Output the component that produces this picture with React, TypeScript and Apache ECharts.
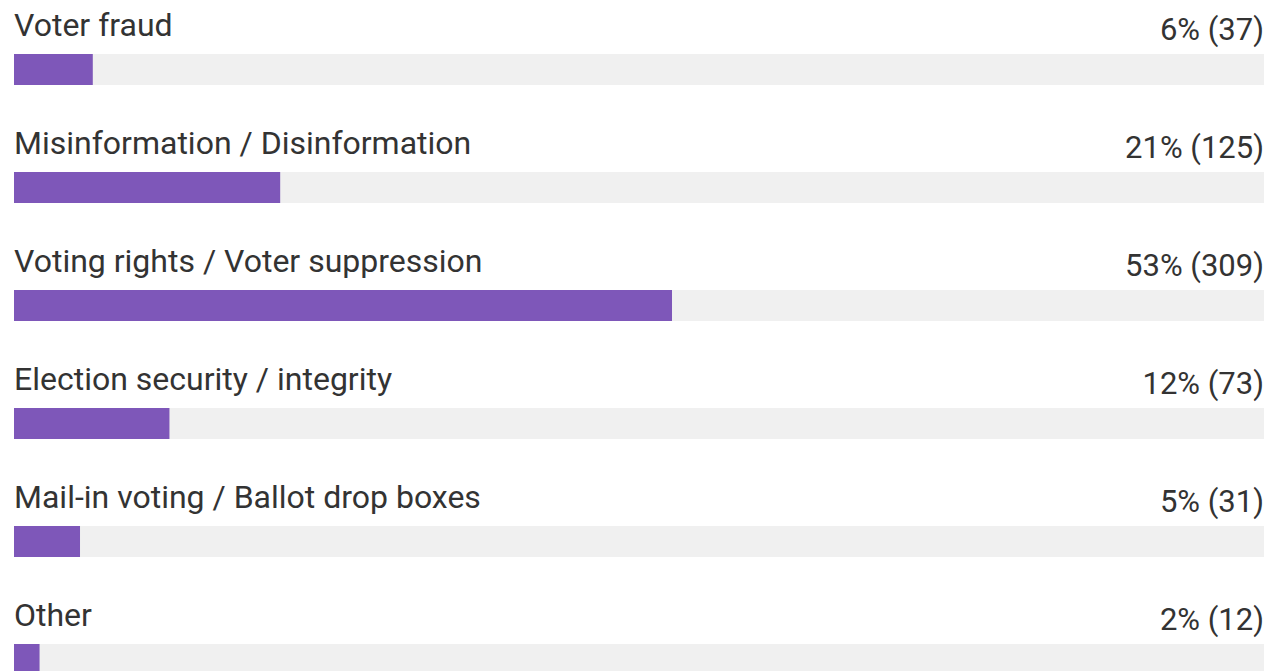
import React, { useEffect, useRef } from "react";
import * as echarts from "echarts";

const categories = [
  "Voter fraud",
  "Misinformation / Disinformation",
  "Voting rights / Voter suppression",
  "Election security / integrity",
  "Mail-in voting / Ballot drop boxes",
  "Other",
];
const percents = [6, 21, 53, 12, 5, 2];
const counts = [37, 125, 309, 73, 31, 12];

const total = counts.reduce((a, b) => a + b, 0);

export default function App() {
  const ref = useRef<HTMLDivElement>(null);
  useEffect(() => {
    const el = ref.current!;
    const chart = echarts.init(el, undefined, { renderer: "svg" });
    const font = "Roboto, 'Noto Sans', sans-serif";
    chart.setOption({
      animation: false,
      grid: { left: 14, right: 4, top: 10.5, height: 708, containLabel: false },
      xAxis: { type: "value", min: 0, max: total, show: false },
      yAxis: {
        type: "category",
        data: categories,
        inverse: true,
        show: false,
      },
      series: [
        {
          type: "bar",
          data: categories.map(() => total),
          barWidth: 31,
          barGap: "-100%",
          itemStyle: { color: "#f0f0f0" },
          silent: true,
          label: {
            show: true,
            position: ["100%", -24.5],
            align: "right",
            verticalAlign: "middle",
            lineHeight: 31,
            fontFamily: font,
            fontSize: 31,
            color: "#333333",
            formatter: (p: any) => `${percents[p.dataIndex]}% (${counts[p.dataIndex]})`,
          },
        },
        {
          type: "bar",
          data: counts,
          barWidth: 31,
          barGap: "-100%",
          itemStyle: { color: "#7e57b9" },
          label: {
            show: true,
            position: [0, -29],
            align: "left",
            verticalAlign: "middle",
            lineHeight: 32,
            fontFamily: font,
            fontSize: 32,
            color: "#333333",
            formatter: (p: any) => categories[p.dataIndex],
          },
        },
      ],
    });
    return () => chart.dispose();
  }, []);
  return (
    <div
      style={{
        position: "absolute",
        left: 0,
        top: 0,
        width: 1268,
        height: 671,
        overflow: "hidden",
      }}
    >
      <div ref={ref} style={{ width: 1268, height: 740 }} />
    </div>
  );
}
